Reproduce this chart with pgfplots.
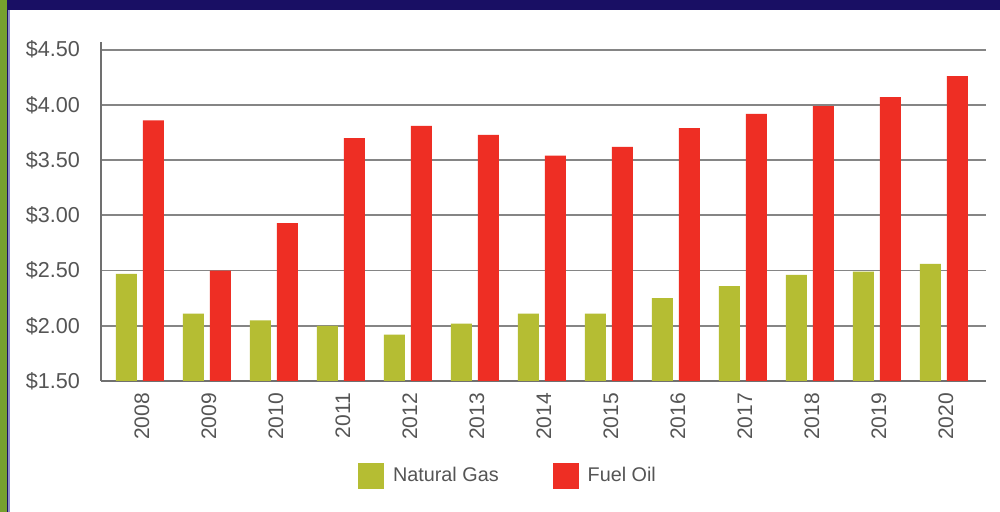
\documentclass[border=0pt]{standalone}
\usepackage{pgfplots}
\pgfplotsset{compat=1.18}
\usepackage{fontspec}
\setmainfont{Liberation Sans}
\definecolor{gasgreen}{HTML}{B5BD33}
\definecolor{oilred}{HTML}{EE2E24}
\definecolor{navy}{HTML}{190F64}
\definecolor{sidegreen}{HTML}{76A02E}
\definecolor{lav}{HTML}{8C8CC8}
\definecolor{txt}{HTML}{555555}
\definecolor{gridc}{HTML}{858585}
\definecolor{axisc}{HTML}{707070}
\begin{document}
\begin{tikzpicture}
\path[use as bounding box, fill=white] (0,0) rectangle (500pt,256pt);
\fill[sidegreen] (0,0) rectangle (3.35pt,256pt);
\fill[navy] (3.35pt,0) rectangle (4pt,256pt);
\fill[lav] (4pt,0) rectangle (4.8pt,251pt);
\fill[navy] (3.35pt,251pt) rectangle (500pt,256pt);
\begin{axis}[
  at={(50.5pt,65.5pt)}, anchor=south west,
  scale only axis, width=442.5pt, height=169.5pt,
  xmin=-0.58, xmax=12.63, ymin=1.5, ymax=4.57,
  axis x line*=bottom, axis y line*=left,
  axis line style={draw=axisc, line width=0.9pt, -},
  ytick={1.5,2,2.5,3,3.5,4,4.5},
  yticklabels={\$1.50,\$2.00,\$2.50,\$3.00,\$3.50,\$4.00,\$4.50},
  xtick={0,1,2,3,4,5,6,7,8,9,10,11,12},
  xticklabels={2008,2009,2010,2011,2012,2013,2014,2015,2016,2017,2018,2019,2020},
  ymajorgrids, grid style={draw=gridc, line width=0.9pt},
  major tick length=0pt,
  tick label style={text=txt},
  xticklabel style={font=\fontsize{10.5}{12}\selectfont, rotate=90, anchor=east, xshift=-2.5pt, yshift=-1pt},
  yticklabel style={font=\fontsize{10.8}{12}\selectfont, xshift=-7pt},
  ybar, bar width=10.5pt,
  legend style={at={(0.4610,-0.28)}, anchor=center, draw=none, fill=none,
    legend columns=2, font=\fontsize{9.9}{11}\selectfont, text=txt},
]
\addplot[fill=gasgreen, draw=none, bar shift=-6.75pt,
  legend image code/.code={\fill[gasgreen] (0pt,-6.5pt) rectangle (13pt,6.5pt);}]
  coordinates {(0,2.47) (1,2.11) (2,2.05) (3,2.00) (4,1.92) (5,2.02) (6,2.11) (7,2.11) (8,2.25) (9,2.36) (10,2.46) (11,2.49) (12,2.56)};
\addlegendentry{\hspace*{2.5pt}Natural Gas\hspace*{25pt}}
\addplot[fill=oilred, draw=none, bar shift=6.75pt,
  legend image code/.code={\fill[oilred] (0pt,-6.5pt) rectangle (13pt,6.5pt);}]
  coordinates {(0,3.86) (1,2.50) (2,2.93) (3,3.70) (4,3.81) (5,3.73) (6,3.54) (7,3.62) (8,3.79) (9,3.92) (10,3.99) (11,4.07) (12,4.26)};
\addlegendentry{\hspace*{2.5pt}Fuel Oil}
\end{axis}
\end{tikzpicture}
\end{document}
